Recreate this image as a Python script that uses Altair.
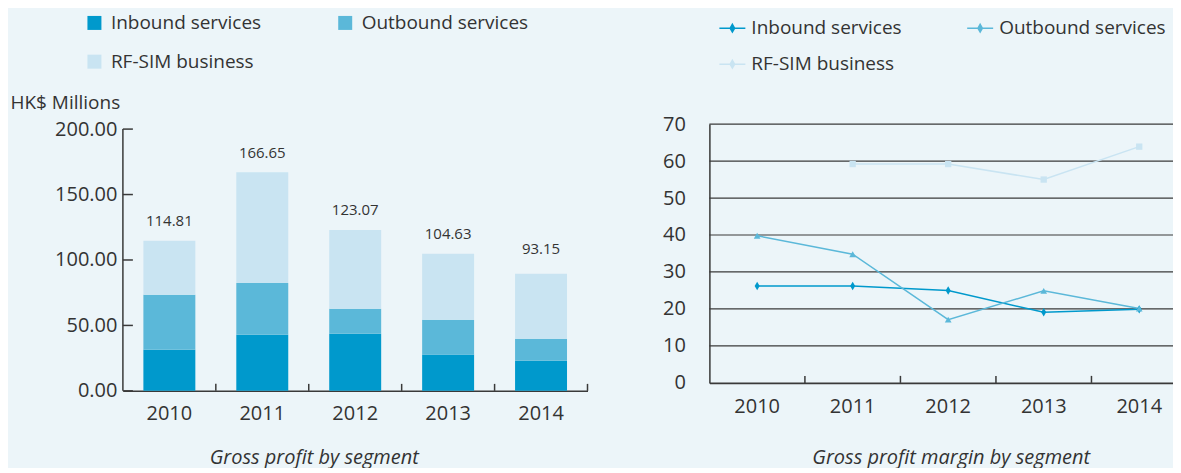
import altair as alt
import pandas as pd

# ---------------- data ----------------
years = ["2010", "2011", "2012", "2013", "2014"]
segments = ["Inbound services", "Outbound services", "RF-SIM business"]
seg_colors = ["#0099cc", "#5bb8d9", "#c9e4f2"]

# Gross profit by segment (HK$ Millions)
gp_inbound = [31.5, 42.9, 43.7, 27.7, 23.1]
gp_outbound = [41.9, 39.6, 19.1, 26.7, 16.8]
gp_rfsim = [41.2, 84.6, 60.2, 50.3, 49.5]
gp_total_labels = ["114.81", "166.65", "123.07", "104.63", "93.15"]
gp_ticks = [0, 50, 100, 150, 200]

# Gross profit margin by segment (%)
gpm_inbound = [26.2, 26.2, 25.0, 19.1, 19.9]
gpm_outbound = [39.8, 34.8, 17.1, 24.9, 20.1]
gpm_rfsim = [None, 59.2, 59.2, 55.0, 63.9]
gpm_ticks = [0, 10, 20, 30, 40, 50, 60, 70]

FONT = "Open Sans"
TXT = "#333333"
AX = "#3a3a3a"
BG = "#ecf5f9"

# ---------------- tables ----------------
gp_rows = []
for i, (seg, vals) in enumerate(zip(segments, [gp_inbound, gp_outbound, gp_rfsim])):
    for y, v in zip(years, vals):
        gp_rows.append({"year": y, "segment": seg, "order": i, "value": v})
gp_df = pd.DataFrame(gp_rows)
lab_df = pd.DataFrame({"year": years, "label": gp_total_labels,
                       "value": [float(s) for s in gp_total_labels]})

gpm_rows = []
for seg, vals in zip(segments, [gpm_inbound, gpm_outbound, gpm_rfsim]):
    for y, v in zip(years, vals):
        gpm_rows.append({"year": y, "segment": seg, "value": v})
gpm_df = pd.DataFrame(gpm_rows)

# ---------------- left: stacked bars ----------------
W1, H1 = 465, 267
top_gap = 5
y_max = max(gp_ticks) * H1 / (H1 - top_gap)
yscale = alt.Scale(domain=[0, y_max], nice=False, zero=True)
xscale = alt.Scale(domain=years, paddingInner=0, paddingOuter=0)
color_scale = alt.Scale(domain=segments, range=seg_colors)

x_axis1 = alt.Axis(title=None, ticks=False, labelAngle=0, labelFontSize=20,
                   labelColor=TXT, labelPadding=13, domainColor=AX, domainWidth=1.5,
                   grid=False)
y_axis1 = alt.Axis(title="HK$ Millions", values=gp_ticks, format=".2f", domain=False,
                   ticks=False, grid=False, labelFontSize=20, labelColor=TXT,
                   labelPadding=6, labelOverlap=False, titleAngle=0, titleX=-113,
                   titleY=-22, titleAlign="left", titleBaseline="middle",
                   titleFontSize=19, titleFontWeight="normal", titleColor=TXT)

bars = alt.Chart(gp_df).mark_bar(size=52).encode(
    x=alt.X("year:N", scale=xscale, sort=years, axis=x_axis1),
    y=alt.Y("value:Q", stack="zero", scale=yscale, axis=y_axis1),
    color=alt.Color("segment:N", scale=color_scale,
                    legend=alt.Legend(title=None, orient="none", legendX=-38, legendY=-111,
                                      direction="horizontal", columns=2, columnPadding=74,
                                      rowPadding=19, symbolType="square", symbolSize=196,
                                      symbolStrokeWidth=0, labelFontSize=19, labelColor=TXT,
                                      labelOffset=7, labelLimit=400, padding=0)),
    order=alt.Order("order:Q", sort="ascending"),
)

labels = alt.Chart(lab_df).mark_text(dy=-20, fontSize=15, color=TXT).encode(
    x=alt.X("year:N", sort=years, axis=x_axis1),
    y=alt.Y("value:Q", axis=y_axis1),
    text="label:N",
)

yline = alt.Chart(pd.DataFrame({"value": [min(gp_ticks)], "hi": [max(gp_ticks)]})).mark_rule(
    color=AX, strokeWidth=1.5).encode(x=alt.value(0), y=alt.Y("value:Q", axis=y_axis1), y2="hi:Q")

yticks = alt.Chart(pd.DataFrame({"value": gp_ticks})).mark_rule(color=AX, strokeWidth=1.5).encode(
    x=alt.value(0), x2=alt.value(10), y=alt.Y("value:Q", axis=y_axis1))

xticks = alt.Chart(pd.DataFrame({"year": years})).mark_rule(color=AX, strokeWidth=1.5).encode(
    x=alt.X("year:N", bandPosition=1, sort=years, axis=x_axis1),
    y=alt.value(H1), y2=alt.value(H1 - 7))

left = alt.layer(bars, labels, yline, yticks, xticks).properties(
    width=W1, height=H1,
    title=alt.TitleParams("Gross profit by segment", orient="bottom", anchor="middle",
                          dx=-41, offset=24, fontSize=20, fontStyle="italic",
                          fontWeight="normal", color=TXT),
)

# ---------------- right: margin lines ----------------
W2, H2 = 478, 259
x2scale = alt.Scale(domain=years, paddingInner=0, paddingOuter=0)
y2scale = alt.Scale(domain=[min(gpm_ticks), max(gpm_ticks)], nice=False)

x_axis2 = alt.Axis(title=None, ticks=False, labelAngle=0, labelFontSize=20,
                   labelColor=TXT, labelPadding=14, domainColor=AX, domainWidth=2,
                   grid=False)
y_axis2 = alt.Axis(title=None, values=gpm_ticks, tickCount=len(gpm_ticks), ticks=False,
                   grid=False, domainColor=AX, domainWidth=1.5, labelOverlap=False,
                   labelFontSize=20, labelColor=TXT, labelPadding=24)

# legend symbol: a short line with a small marker on it
leg2 = alt.Legend(
    title=None, orient="none", legendX=9, legendY=-110, direction="horizontal",
    columns=2, columnPadding=62, rowPadding=12, symbolSize=676, symbolStrokeWidth=1.5,
    symbolType="M-1,0H1M0,-0.3L0.17,0L0,0.3L-0.17,0Z",
    labelFontSize=19, labelColor=TXT, labelOffset=5, labelLimit=400, padding=0,
)

grid2 = alt.Chart(pd.DataFrame({"value": gpm_ticks[1:]})).mark_rule(
    color=AX, strokeWidth=1.2).encode(x=alt.value(0), x2=alt.value(W2),
                                      y=alt.Y("value:Q", scale=y2scale, axis=y_axis2))

lines = alt.Chart(gpm_df).mark_line(strokeWidth=1.5).encode(
    x=alt.X("year:N", scale=x2scale, sort=years, axis=x_axis2),
    y=alt.Y("value:Q", scale=y2scale, axis=y_axis2),
    color=alt.Color("segment:N", scale=color_scale, legend=leg2),
)

point_shapes = ["M0,-1L0.6,0L0,1L-0.6,0Z", "triangle-up", "square"]
point_sizes = [70, 45, 40]
point_layers = []
for seg, shp, sz in zip(segments, point_shapes, point_sizes):
    point_layers.append(
        alt.Chart(gpm_df).transform_filter(alt.datum.segment == seg)
        .mark_point(shape=shp, filled=True, size=sz, opacity=1)
        .encode(x=alt.X("year:N", sort=years, axis=x_axis2),
                y=alt.Y("value:Q", axis=y_axis2),
                color=alt.Color("segment:N", scale=color_scale))
    )

xticks2 = alt.Chart(pd.DataFrame({"year": years[:-1]})).mark_rule(color=AX, strokeWidth=1.5).encode(
    x=alt.X("year:N", bandPosition=1, sort=years, axis=x_axis2),
    y=alt.value(H2), y2=alt.value(H2 - 7))

right = alt.layer(grid2, lines, *point_layers, xticks2).properties(
    width=W2, height=H2,
    title=alt.TitleParams("Gross profit margin by segment", orient="bottom", anchor="middle",
                          dx=3, offset=31, fontSize=20, fontStyle="italic",
                          fontWeight="normal", color=TXT),
)

chart = alt.hconcat(left, right, spacing=122, bounds="flush").resolve_scale(
    color="independent", x="independent", y="independent"
).resolve_legend(color="independent").properties(
    padding={"left": 2, "top": 5, "right": -15, "bottom": 0},
    background=BG,
).configure(font=FONT).configure_view(stroke="transparent", strokeWidth=0)

chart.save("out.html", embed_options={"renderer": "svg", "actions": False})
